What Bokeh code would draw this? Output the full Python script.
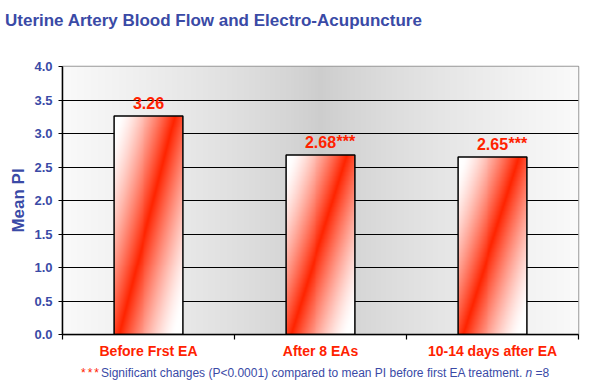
import numpy as np
from bokeh.plotting import figure
from bokeh.layouts import column
from bokeh.models import FixedTicker, ColumnDataSource, Div
from bokeh.core.properties import value
from bokeh.embed import file_html
from bokeh.resources import INLINE

# ---- data ----
categories = ["Before Frst EA", "After 8 EAs", "10-14 days after EA"]
mean_pi = [3.26, 2.68, 2.65]
sig_marks = ["", "***", "***"]
y_ticks = [0.0, 0.5, 1.0, 1.5, 2.0, 2.5, 3.0, 3.5, 4.0]
title_text = "Uterine Artery Blood Flow and Electro-Acupuncture"
note_text = "Significant changes (P&lt;0.0001) compared to mean PI before first EA treatment."

BLUE = "#3a4aa6"
RED = "#ff2200"
FONT = "Liberation Sans"

n = len(categories)
centers = [i + 0.5 for i in range(n)]
bar_w = 0.4

title = Div(text=title_text, width=585, height=36, margin=(0, 0, 0, 0),
            styles={"font-family": FONT, "font-size": "17px", "font-weight": "bold",
                    "color": BLUE, "line-height": "20px", "padding-left": "5px",
                    "padding-top": "11px", "white-space": "nowrap"})

p = figure(width=585, height=326, x_range=(0, n), y_range=(0, 4.0),
           output_backend="svg", toolbar_location=None,
           min_border_left=62, min_border_right=7, min_border_top=30,
           min_border_bottom=28)
p.background_fill_color = "white"
p.border_fill_color = "white"
p.outline_line_color = "#999999"
p.outline_line_width = 1.5

# background gradient (plot area)
nx, ny = 300, 60
u = np.linspace(0, 1, nx)[None, :]
v = np.linspace(0, 1, ny)[:, None]
d = np.abs(u - 0.5) / 0.5
g = 205 + 45 * np.clip(d, 0, 1) ** 0.8
g = np.broadcast_to(g, (ny, nx))
bg = np.zeros((ny, nx), dtype=np.uint32)
view = bg.view(dtype=np.uint8).reshape((ny, nx, 4))
view[:, :, 0] = g
view[:, :, 1] = g
view[:, :, 2] = g
view[:, :, 3] = 255
p.image_rgba(image=[bg], x=0, y=0, dw=n, dh=4.0, level="image")

# bar gradients
def bar_img(h_px=220, w_px=70):
    uu = np.linspace(0, 1, w_px)[None, :]
    vv = np.linspace(0, 1, h_px)[:, None]
    us = 0.07 + 0.81 * vv
    dd = np.abs(uu - us)
    f = np.clip(1 - dd / 0.8, 0, 1) ** 1.4
    img = np.zeros((h_px, w_px), dtype=np.uint32)
    vw = img.view(dtype=np.uint8).reshape((h_px, w_px, 4))
    vw[:, :, 0] = 255
    vw[:, :, 1] = (255 * (1 - f) + 36 * f).astype(np.uint8)
    vw[:, :, 2] = (255 * (1 - f)).astype(np.uint8)
    vw[:, :, 3] = 255
    return img

imgs = [bar_img() for _ in mean_pi]
p.image_rgba(image=imgs, x=[cx - bar_w / 2 for cx in centers], y=[0] * n,
             dw=[bar_w] * n, dh=mean_pi)
p.vbar(x=centers, top=mean_pi, width=bar_w, fill_alpha=0,
       line_color="black", line_width=1.5)

src = ColumnDataSource(dict(x=centers, y=mean_pi,
                            lab=[f"{v_:.2f}" for v_ in mean_pi], sig=sig_marks))
p.text(x="x", y="y", text="lab", source=src, text_align="center",
       text_baseline="alphabetic", y_offset=-13, text_color=RED,
       text_font=value(FONT), text_font_style="bold", text_font_size="16px")
p.text(x="x", y="y", text="sig", source=src, text_align="left",
       text_baseline="alphabetic", x_offset=16, y_offset=-13, text_color=RED,
       text_font=value(FONT), text_font_style="bold", text_font_size="16px")

# grid
p.xgrid.visible = False
p.ygrid.ticker = FixedTicker(ticks=y_ticks[1:-1])
p.ygrid.grid_line_color = "black"
p.ygrid.grid_line_width = 1.2

# y axis
p.yaxis.ticker = FixedTicker(ticks=y_ticks)
p.yaxis.major_label_overrides = {t: f"{t:.1f}" for t in y_ticks}
p.yaxis.minor_tick_line_color = None
p.yaxis.major_tick_in = 0
p.yaxis.major_tick_out = 4
p.yaxis.major_label_standoff = 6
p.yaxis.major_label_text_color = BLUE
p.yaxis.major_label_text_font = FONT
p.yaxis.major_label_text_font_style = "bold"
p.yaxis.major_label_text_font_size = "13px"
p.yaxis.axis_label = "Mean PI"
p.yaxis.axis_label_text_color = BLUE
p.yaxis.axis_label_text_font = FONT
p.yaxis.axis_label_text_font_style = "bold"
p.yaxis.axis_label_text_font_size = "17px"
p.yaxis.axis_label_standoff = 3
p.yaxis.axis_line_color = "black"
p.yaxis.axis_line_width = 1.5

# x axis
p.xaxis.ticker = FixedTicker(ticks=centers, minor_ticks=list(range(n + 1)))
p.xaxis.major_label_overrides = {cx: cat for cx, cat in zip(centers, categories)}
p.xaxis.major_tick_line_color = None
p.xaxis.major_tick_in = 0
p.xaxis.major_tick_out = 0
p.xaxis.minor_tick_in = 0
p.xaxis.minor_tick_out = 5
p.xaxis.minor_tick_line_color = "black"
p.xaxis.minor_tick_line_width = 1.2
p.xaxis.major_label_standoff = 3
p.xaxis.major_label_text_color = RED
p.xaxis.major_label_text_font = FONT
p.xaxis.major_label_text_font_style = "bold"
p.xaxis.major_label_text_font_size = "14px"
p.xaxis.axis_line_color = "black"
p.xaxis.axis_line_width = 1.5

note = Div(
    text=(f'<span style="color:{RED};letter-spacing:2px">***</span>{note_text} '
          f'<i>n</i> =8'),
    width=585, height=24, margin=(0, 0, 0, 0),
    styles={"font-family": FONT, "font-size": "12px", "color": BLUE,
            "line-height": "16px", "padding-left": "81px", "padding-top": "3px",
            "white-space": "nowrap"})

layout = column(title, p, note, spacing=0)
open("out.html", "w").write(file_html(layout, INLINE))
